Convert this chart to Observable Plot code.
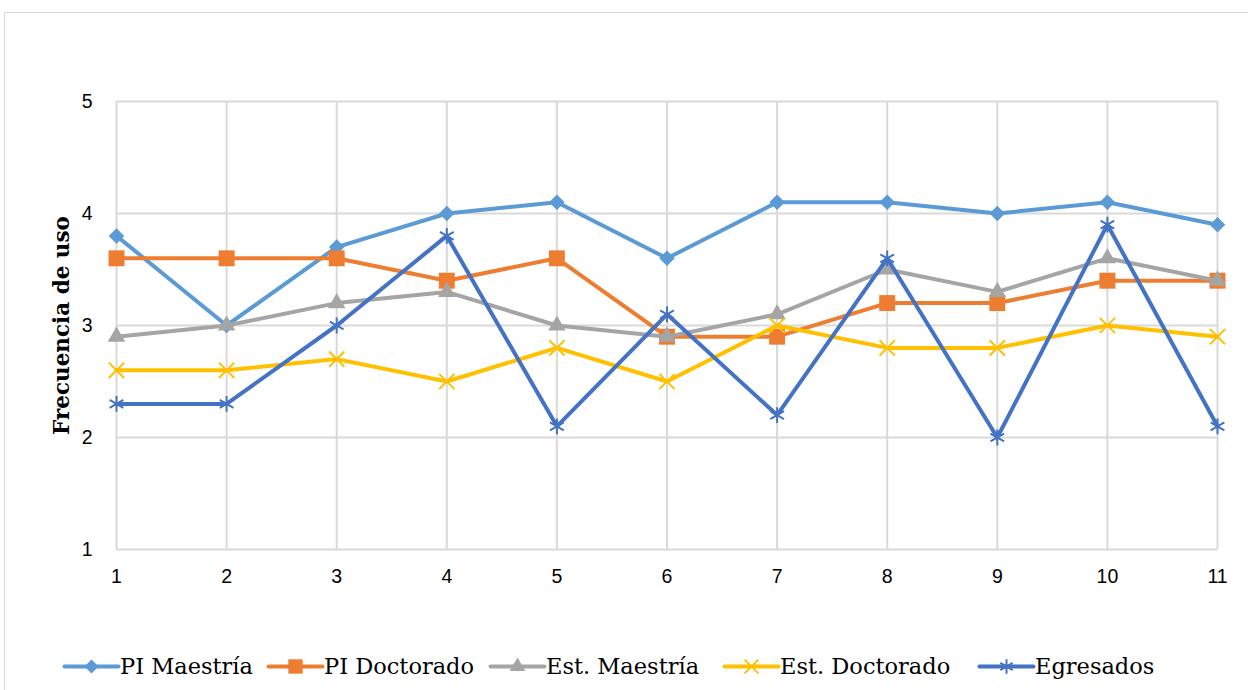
<!DOCTYPE html>
<html><head><meta charset="utf-8">
<script src="https://cdn.jsdelivr.net/npm/d3@7"></script>
<script src="https://cdn.jsdelivr.net/npm/@observablehq/plot@0.6"></script>
<style>
body{margin:0;background:#fff;width:1248px;height:690px;overflow:hidden;position:relative;}
#frame{position:absolute;left:4px;top:12px;width:1300px;height:720px;border:1px solid #d9d9d9;box-sizing:border-box;}
#chart{position:absolute;left:0;top:0;}
#legend{position:absolute;left:0;top:649px;width:1248px;height:34px;font-family:"DejaVu Serif",serif;font-size:22.5px;color:#000;}
.item{position:absolute;top:0;height:34px;display:flex;align-items:center;white-space:nowrap;}
.item svg{margin-right:2px;}
</style></head>
<body>
<div id="frame"></div>
<div id="chart"></div>
<div id="legend"></div>
<script>
const categories = [1,2,3,4,5,6,7,8,9,10,11];
const seriesNames = ["PI Maestría","PI Doctorado","Est. Maestría","Est. Doctorado","Egresados"];
const piMaestria   = [3.8,3.0,3.7,4.0,4.1,3.6,4.1,4.1,4.0,4.1,3.9];
const piDoctorado  = [3.6,3.6,3.6,3.4,3.6,2.9,2.9,3.2,3.2,3.4,3.4];
const estMaestria  = [2.9,3.0,3.2,3.3,3.0,2.9,3.1,3.5,3.3,3.6,3.4];
const estDoctorado = [2.6,2.6,2.7,2.5,2.8,2.5,3.0,2.8,2.8,3.0,2.9];
const egresados    = [2.3,2.3,3.0,3.8,2.1,3.1,2.2,3.6,2.0,3.9,2.1];
const yTicks = [1,2,3,4,5];
const yLabel = "Frecuencia de uso";

const values = [piMaestria,piDoctorado,estMaestria,estDoctorado,egresados];
const colors = ["#5B9BD5","#ED7D31","#A5A5A5","#FFC000","#4472C4"];
const symbols = ["diamond2","square","triangle","times","asterisk"];
const radii = [7,9,6.5,7,7.5];
const filled = [true,true,true,false,false];

const marks = [
  Plot.gridX(categories,{stroke:"#d9d9d9",strokeOpacity:1,strokeWidth:2}),
  Plot.gridY(yTicks,{stroke:"#d9d9d9",strokeOpacity:1,strokeWidth:2}),
  Plot.axisX({ticks:categories,tickSize:0,tickPadding:20,tickFormat:d=>String(d),fontSize:19.5,label:null}),
  Plot.axisY({ticks:yTicks,tickSize:0,tickPadding:24,tickFormat:d=>String(d),fontSize:19.5,label:null}),
  Plot.text([yLabel],{frameAnchor:"left",textAnchor:"middle",rotate:-90,dx:-54,fontSize:21.5,fontWeight:"bold",fontFamily:"DejaVu Serif",fill:"#000"})
];
values.forEach((arr,i)=>{
  const data = categories.map((c,j)=>({x:c,y:arr[j]}));
  marks.push(Plot.line(data,{x:"x",y:"y",stroke:colors[i],strokeWidth:4,curve:"linear"}));
  if(filled[i]) marks.push(Plot.dot(data,{x:"x",y:"y",symbol:symbols[i],r:radii[i],fill:colors[i],stroke:"none"}));
  else marks.push(Plot.dot(data,{x:"x",y:"y",symbol:symbols[i],r:radii[i],stroke:colors[i],strokeWidth:2,fill:"none"}));
});

const plot = Plot.plot({
  width:1248,height:600,
  marginLeft:116,marginRight:31,marginTop:101,marginBottom:51,
  style:{fontFamily:"'Liberation Sans',Arial,sans-serif",fontSize:"19.5px",color:"#000",background:"transparent",overflow:"visible"},
  x:{domain:[1,11]},
  y:{domain:[1,5]},
  marks
});
document.getElementById("chart").appendChild(plot);

// legend
const legend = document.getElementById("legend");
const lefts = [64,268,490,724,979];
seriesNames.forEach((name,i)=>{
  const it = document.createElement("div");
  it.className="item";
  it.style.left = lefts[i]+"px";
  const sw = Plot.plot({
    width:54,height:34,margin:0,
    x:{domain:[0,1],axis:null},y:{domain:[0,1],axis:null},
    style:{background:"transparent",overflow:"visible"},
    marks:[
      Plot.line([{x:0,y:0.5},{x:1,y:0.5}],{x:"x",y:"y",stroke:colors[i],strokeWidth:4,strokeLinecap:"round"}),
      filled[i]
        ? Plot.dot([{x:0.5,y:0.5}],{x:"x",y:"y",symbol:symbols[i],r:radii[i]*0.9,fill:colors[i]})
        : Plot.dot([{x:0.5,y:0.5}],{x:"x",y:"y",symbol:symbols[i],r:radii[i]*0.9,stroke:colors[i],strokeWidth:2,fill:"none"})
    ]
  });
  it.appendChild(sw);
  const t = document.createElement("span");
  t.textContent = name;
  it.appendChild(t);
  legend.appendChild(it);
});
</script>
</body></html>
